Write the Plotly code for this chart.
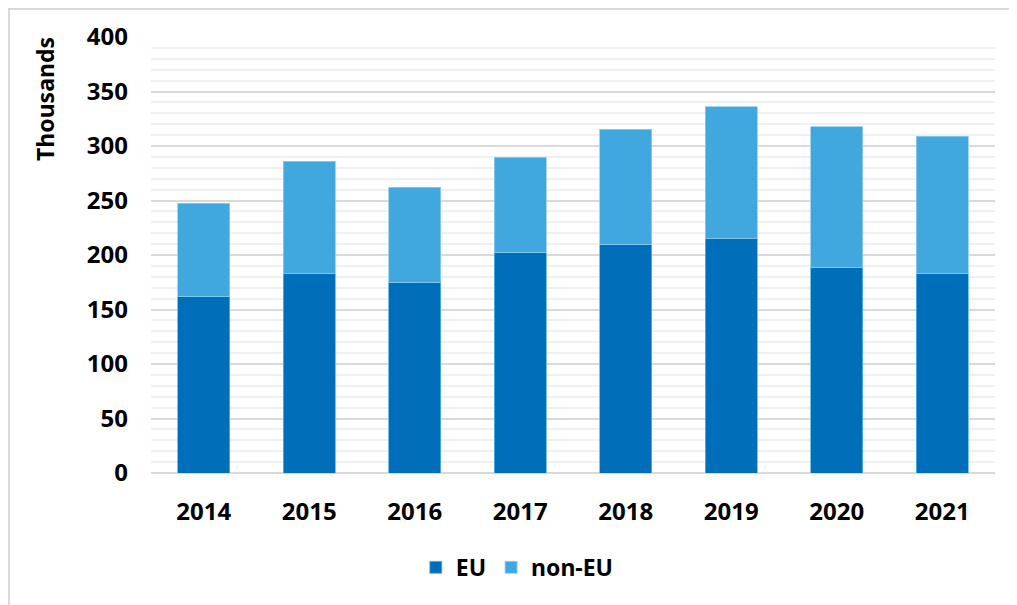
import plotly.graph_objects as go

years = ["2014", "2015", "2016", "2017", "2018", "2019", "2020", "2021"]
eu = [161.8, 182.6, 175.1, 202.0, 209.3, 215.4, 188.6, 182.6]
non_eu = [85.9, 103.2, 86.9, 87.6, 106.2, 120.8, 129.0, 126.4]
y_ticks = [0, 50, 100, 150, 200, 250, 300, 350, 400]

FONT = "Noto Sans"
fig = go.Figure()
fig.add_trace(go.Bar(x=years, y=eu, name="EU",
                     marker=dict(color="#006EB8", line=dict(color="#5BB3E6", width=0.8))))
fig.add_trace(go.Bar(x=years, y=non_eu, name="non-EU",
                     marker=dict(color="#40A8DE", line=dict(color="#8FCDF0", width=0.8))))

# page body has an 8px margin; compensate so plot area sits at x 151-995, y 37-473.5
fig.update_layout(
    barmode="stack",
    bargap=0.51,
    width=1009, height=597,
    margin=dict(l=143, r=22, t=29, b=131.5),
    paper_bgcolor="white", plot_bgcolor="white",
    font=dict(family=FONT, color="#000000"),
    showlegend=True,
    legend=dict(orientation="h", x=0.434, xanchor="center", y=-0.2165, yanchor="middle",
                font=dict(size=23, family=FONT, weight=700), itemwidth=30,
                traceorder="normal"),
    xaxis=dict(showgrid=False, showline=False, ticks="",
               tickfont=dict(size=24, family=FONT, weight=700), ticklabelstandoff=22),
    yaxis=dict(range=[0, 400], tickvals=y_ticks, showgrid=True, gridcolor="#D9D9D9", gridwidth=1.5,
               zeroline=True, zerolinecolor="#D9D9D9", zerolinewidth=2,
               minor=dict(dtick=10, showgrid=True, gridcolor="#F0F0F0", gridwidth=1.5),
               tickfont=dict(size=24, family=FONT, weight=700), ticklabelstandoff=22),
    shapes=[dict(type="rect", xref="paper", yref="paper",
                 x0=(1 - 143) / 844, x1=1.2, y0=-0.5, y1=1 + (29 - 1) / 436.5,
                 line=dict(color="#D9D9D9", width=2), fillcolor="rgba(0,0,0,0)", layer="below")],
    annotations=[dict(text="Thousands", textangle=-90, xref="paper", yref="paper",
                      x=(45 - 151) / 844, y=1 - (99 - 37) / 436.5, xanchor="center", yanchor="middle",
                      showarrow=False, font=dict(size=23, family=FONT, weight=700))],
)

fig.write_html("out.html")
